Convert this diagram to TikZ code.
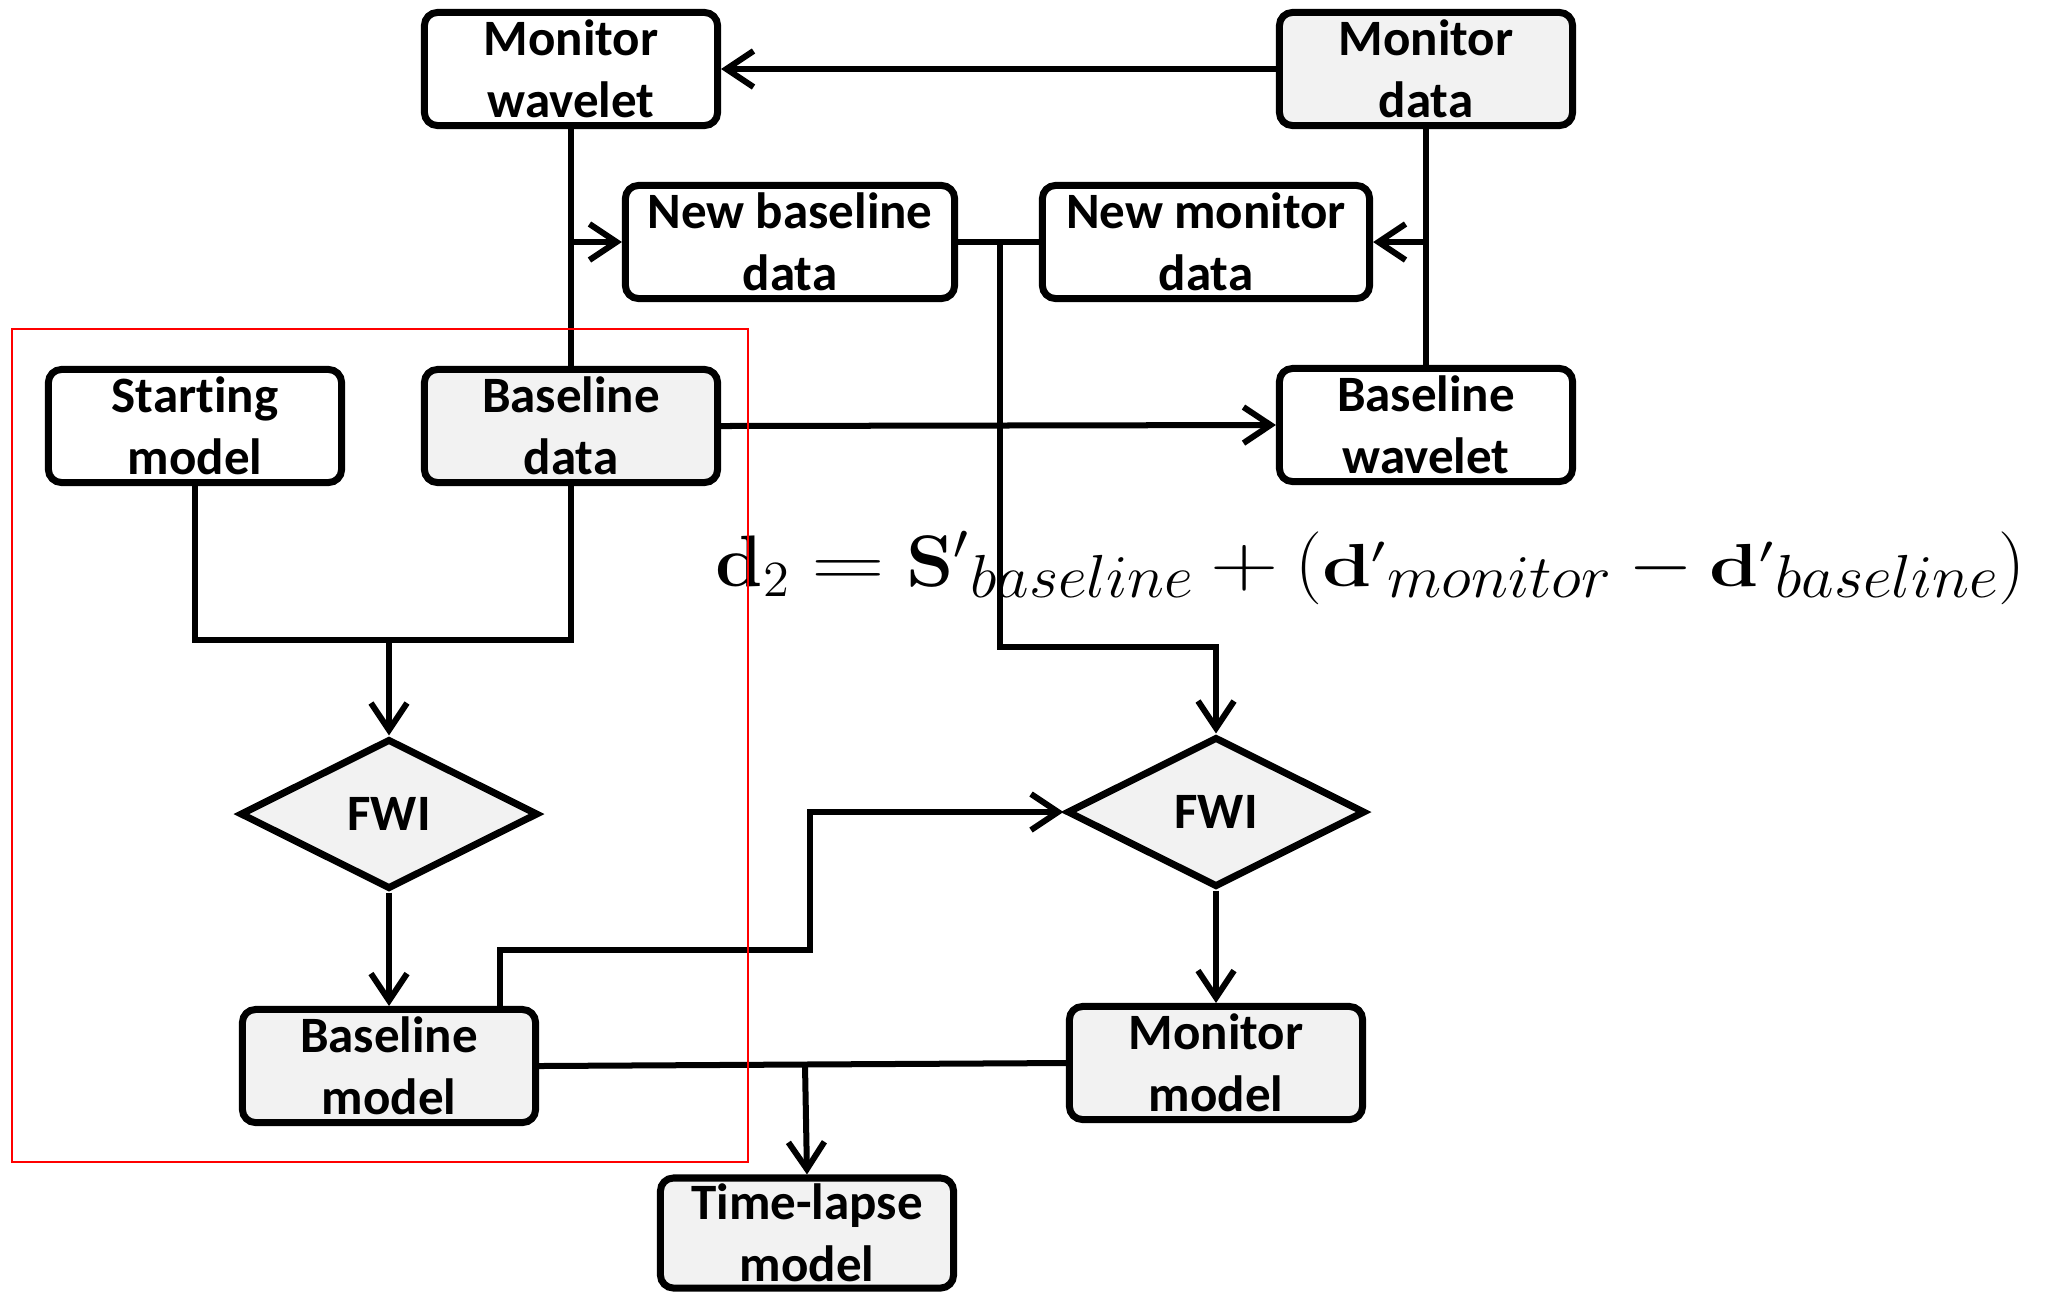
\documentclass[tikz,border=0pt]{standalone}
\usepackage[no-math]{fontspec}
\setmainfont{Carlito}[Ligatures=NoCommon]
\usepackage{graphicx}
\usetikzlibrary{shapes.geometric,arrows.meta}
\definecolor{boxgray}{HTML}{F2F2F2}
\newcommand\lowsub[1]{\lower0.11cm\hbox{\fontsize{17.6}{20}\selectfont$#1$}}
\newcommand\smallbd{\scalebox{1.25}[1]{\fontsize{16}{19}\selectfont$\mathbf{d}'$}}
\newcommand\wideop[3]{#1{\scalebox{#2}[1]{$#3$}}}
\begin{document}
\begin{tikzpicture}[x=0.01cm,y=-0.01cm,
  blw/.style={line width=0.07cm},
  box/.style={blw,draw,rounded corners=0.13cm,minimum width=2.93cm,minimum height=1.13cm,
    align=center,inner sep=0pt,font=\bfseries\fontsize{14.5}{17.5}\selectfont},
  gbox/.style={box,fill=boxgray},
  dia/.style={blw,draw,diamond,fill=boxgray,inner sep=0pt,minimum width=2.98cm,minimum height=1.50cm,
    font=\bfseries\fontsize{14.5}{17.5}\selectfont},
  conn/.style={line width=0.06cm},
  arr/.style={conn,-{Straight Barb[length=0.27cm,width=0.36cm,line width=0.06cm]}}
]
\useasboundingbox (0,0) rectangle (2049,1293);
% nodes
\node[box]  (MW)  at (571,69)   {Monitor\\wavelet};
\node[gbox] (MD)  at (1426,69)  {Monitor\\data};
\node[box,minimum width=3.29cm]  (NBD) at (790,242)  {New baseline\\data};
\node[box,minimum width=3.27cm]  (NMD) at (1206,242) {New monitor\\data};
\node[box]  (SM)  at (195,426)  {Start\kern0pt ing\\model};
\node[gbox] (BD)  at (571,426)  {Baseline\\data};
\node[box]  (BW)  at (1426,425) {Baseline\\wavelet};
\node[dia]  (FL)  at (389,814)  {FWI};
\node[dia]  (FR)  at (1216,812) {FWI};
\node[gbox] (BM)  at (389,1066) {Baseline\\model};
\node[gbox] (MM)  at (1216,1063) {Monitor\\model};
\node[gbox,minimum height=1.1cm] (TL)  at (807,1233) {Time-lapse\\model};
% equation
\node[anchor=base west,inner sep=0pt,font=\fontsize{21.6}{26}\selectfont] (EQ) at (715,586)
  {\scalebox{1.04}[1]{$\mathbf{d}_2 \wideop\mathrel{1.35}{=} \mathbf{S}'\lowsub{baseline} \wideop\mathbin{1.25}{+} (\smallbd\lowsub{monitor} \wideop\mathbin{1.1}{-} \smallbd\lowsub{baseline})$}};
% coordinates
\coordinate (j1) at (1000,242);
\coordinate (k1) at (1000,647);
\coordinate (m1) at (389,640);
\coordinate (b1) at (500,1010);
\coordinate (c1) at (810,950);
\coordinate (t1) at (805,1065);
% connectors
\draw[arr] (MD.west) -- (MW.east);
\draw[conn] (MW.south) -- (BD.north);
\draw[arr] (MW.south |- NBD.west) -- (NBD.west);
\draw[conn] (MD.south) -- (BW.north);
\draw[arr] (MD.south |- NMD.east) -- (NMD.east);
\draw[conn] (NBD.east) -- (NMD.west);
\draw[arr] (j1) -- (k1) -| (FR.north);
\draw[arr] (BD.east) -- (BW.west);
\draw[conn] (SM.south) |- (m1) -| (BD.south);
\draw[arr] (m1) -- (FL.north);
\draw[arr] (FL.south) -- (BM.north);
\draw[arr] (b1) |- (c1) |- (FR.west);
\draw[arr] (FR.south) -- (MM.north);
\draw[conn] (BM.east) -- (MM.west);
\draw[arr] (t1) -- (TL.north);
% red frame
\draw[red,line width=0.02cm] (12,329) rectangle (748,1162);
\end{tikzpicture}
\end{document}
